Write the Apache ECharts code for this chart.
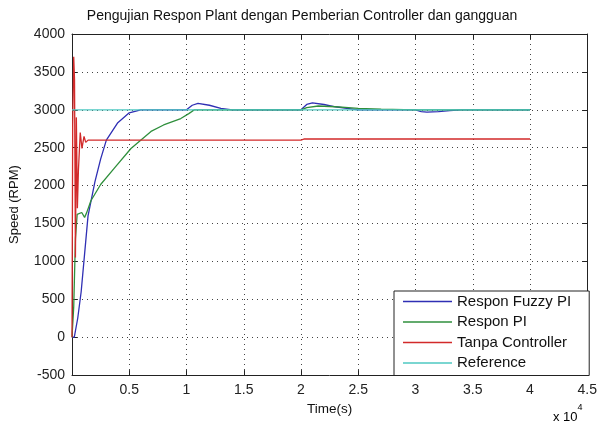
<!DOCTYPE html>
<html>
<head>
<meta charset="utf-8">
<script src="https://cdn.jsdelivr.net/npm/echarts@6/dist/echarts.min.js"></script>
<style>
  html, body { margin: 0; padding: 0; background: #fff; }
  #chart { width: 600px; height: 421px; }
</style>
</head>
<body>
<div id="chart"></div>
<script>
// time in seconds, speed in RPM
var fuzzyT = [0, 200, 500, 800, 1100, 1400, 2000, 2500, 3000, 4000, 5000, 6000, 10000, 10500, 11000, 12000, 13000, 14000, 20000, 20500, 21000, 22000, 23000, 24500, 25000, 30000, 30500, 31000, 32000, 33000, 34000, 40000];
var fuzzyV = [0, 0, 250, 600, 1100, 1600, 2050, 2350, 2600, 2830, 2960, 3000, 3000, 3060, 3085, 3060, 3020, 3000, 3000, 3070, 3090, 3070, 3040, 3010, 3000, 3000, 2975, 2970, 2975, 2990, 3000, 3000];

var piT = [0, 150, 300, 450, 600, 850, 1100, 1300, 1650, 2500, 3700, 5150, 6900, 8000, 9500, 10200, 10700, 20000, 20500, 21500, 23000, 25000, 27000, 30000, 40000];
var piV = [0, 400, 1300, 1620, 1600, 1645, 1580, 1650, 1800, 2015, 2230, 2490, 2715, 2800, 2885, 2950, 3000, 3000, 3030, 3050, 3040, 3020, 3010, 3000, 3000];

var tanpaT = [0, 60, 150, 220, 300, 380, 470, 560, 720, 870, 1050, 1200, 1400, 20000, 20300, 40000];
var tanpaV = [0, 2800, 3700, 3400, 1050, 2900, 1700, 2200, 2700, 2490, 2650, 2570, 2600, 2600, 2615, 2615];

var refT = [0, 40000];
var refV = [3000, 3000];

var seriesNames = ['Respon Fuzzy PI', 'Respon PI', 'Tanpa Controller', 'Reference'];
var seriesColors = ['#2f2fb4', '#2f8f3c', '#d22a2a', '#4ec8c2'];

function pairs(t, v) {
  var out = [];
  for (var i = 0; i < t.length; i++) out.push([t[i], v[i]]);
  return out;
}

var font = 'Liberation Sans, Arial, sans-serif';
var gridLine = { show: true, lineStyle: { color: '#444', width: 1, type: [1, 4] } };

var chart = echarts.init(document.getElementById('chart'), null, { renderer: 'canvas' });

var xBase = {
  type: 'value', min: 0, max: 45000, interval: 5000,
  axisLine: { show: true, onZero: false, lineStyle: { color: '#222', width: 1 } },
  axisTick: { show: true, inside: true, length: 5, lineStyle: { color: '#222' } }
};
var yBase = {
  type: 'value', min: -500, max: 4000, interval: 500,
  axisLine: { show: true, onZero: false, lineStyle: { color: '#222', width: 1 } },
  axisTick: { show: true, inside: true, length: 5, lineStyle: { color: '#222' } }
};

var option = {
  animation: false,
  backgroundColor: '#fff',
  title: {
    text: 'Pengujian Respon Plant dengan Pemberian Controller dan gangguan',
    left: 297, top: 4, textAlign: 'center',
    textStyle: { fontFamily: font, fontSize: 14, fontWeight: 'normal', color: '#111' }
  },
  grid: { left: 71, right: 11, top: 34, bottom: 42 },
  legend: {
    orient: 'vertical',
    left: 394, top: 291,
    padding: [3, 18, 5, 9],
    itemGap: 5.5,
    icon: 'rect',
    itemWidth: 49, itemHeight: 1.5,
    backgroundColor: '#fff',
    borderColor: '#222', borderWidth: 1, borderRadius: 0,
    textStyle: { fontFamily: font, fontSize: 15, color: '#111', lineHeight: 14 },
    data: seriesNames
  },
  xAxis: [
    Object.assign({}, xBase, {
      position: 'bottom',
      name: 'Time(s)', nameLocation: 'middle', nameGap: 21,
      nameTextStyle: { fontFamily: font, fontSize: 13.5, color: '#111' },
      axisLabel: {
        fontFamily: font, fontSize: 14, color: '#222', margin: 8,
        formatter: function (v) { return String(v / 10000); }
      },
      splitLine: gridLine
    }),
    Object.assign({}, xBase, {
      position: 'top',
      axisLabel: { show: false },
      splitLine: { show: false }
    })
  ],
  yAxis: [
    Object.assign({}, yBase, {
      position: 'left',
      name: 'Speed (RPM)', nameLocation: 'middle', nameGap: 51,
      nameTextStyle: { fontFamily: font, fontSize: 13, color: '#111' },
      axisLabel: {
        fontFamily: font, fontSize: 14, color: '#222', margin: 7,
        formatter: function (v) { return String(v); }
      },
      splitLine: gridLine
    }),
    Object.assign({}, yBase, {
      position: 'right',
      axisLabel: { show: false },
      splitLine: { show: false }
    })
  ],
  graphic: [{
    type: 'text', left: 553, top: 403,
    style: {
      text: '{b|x 10}{s|4}',
      rich: {
        b: { fontFamily: font, fontSize: 13, color: '#111', padding: [8, 0, 0, 0] },
        s: { fontFamily: font, fontSize: 9, color: '#111', verticalAlign: 'top' }
      }
    }
  }],
  series: [
    { name: seriesNames[0], data: pairs(fuzzyT, fuzzyV) },
    { name: seriesNames[1], data: pairs(piT, piV) },
    { name: seriesNames[2], data: pairs(tanpaT, tanpaV) },
    { name: seriesNames[3], data: pairs(refT, refV) }
  ].map(function (s, i) {
    return Object.assign(s, {
      type: 'line',
      symbol: 'none',
      smooth: false,
      color: seriesColors[i],
      lineStyle: { color: seriesColors[i], width: 1.3 }
    });
  })
};

chart.setOption(option);
</script>
</body>
</html>
